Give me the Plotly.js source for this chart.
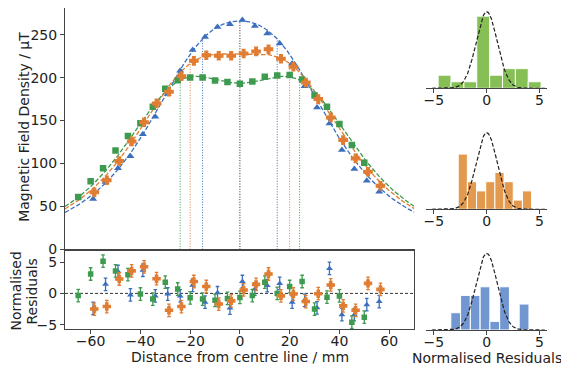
<!DOCTYPE html>
<html>
<head>
<meta charset="utf-8">
<script src="https://cdn.plot.ly/plotly-3.0.1.min.js"></script>
<style>html,body{margin:0;padding:0;background:#fff;}#chart{width:561px;height:369px;}</style>
</head>
<body>
<div id="chart"></div>
<script>
// ---------- data ----------
const seriesNames = ["30 mm", "40 mm", "48 mm"];
// measured field (µT) vs distance (mm)
const blueX   = [-59,-54,-49,-44,-39,-34,-29,-24,-19,-14,-9,-4,1,6,11,16,21,26,31,36,41,46,51,56];
const blueB   = [58.7,78.5,94.4,108.4,134,154.4,181,208,232,247.4,259,262,266.9,260,251.4,239.8,216.5,190,165.3,146.7,115.7,93.6,80,67.2];
const orangeX = [-58.5,-53.5,-48.5,-43.5,-38.5,-33.5,-28.5,-23.5,-18.5,-13.5,-8.5,-3.5,1.5,6.5,11.5,16.5,21.5,26.5,31.5,36.5,41.5,46.5,51.5,56.5];
const orangeB = [66.5,80.5,102.9,125.8,148,170,183.5,201.7,219.5,226,225.4,225.4,228,230.5,233,222,212.6,194.4,175,153.7,127.3,106,90.5,74.2];
const greenX  = [-65,-60,-55,-50,-45,-40,-35,-30,-25,-20,-15,-10,-5,0,5,10,15,20,25,30,35,40,45,50];
const greenB  = [61,79.3,94.4,115.3,132,147,166,187,197,200.2,200.2,196.7,195,193,195.6,201,202.5,203,197.9,179.3,166,146,121.5,101];
// normalised residuals
const blueR   = [-2.4,1.45,3.5,-0.25,3.7,-0.4,-0.1,-0.4,1.3,-1.4,0.1,-2.35,1.9,0.7,1.25,1.6,-1.4,-1.1,-2.3,4.0,-3.4,-3.4,-1.8,-1.3];
const orangeR = [-2.5,-2.1,2.3,3.6,4.25,2.35,-2.7,-2.1,1.9,1.1,-1.7,-1.2,0.55,1.45,3.1,-0.4,-0.1,-1.3,-0.05,1.35,-2.0,-2.7,1.6,0.65];
const greenR  = [-0.35,3.1,5.15,3.6,3.0,-0.1,-0.9,1.8,0.7,-0.7,-0.9,-1.1,-0.8,-0.65,-0.35,1.8,0.0,1.1,1.9,-2.5,-0.6,-0.4,-4.6,-3.8];
// fit parameters (two-coil on-axis model): centre field, coil separation, coil radius
const fitCentre = [266, 227.5, 193.5];
const coilSep   = [30, 40, 48];
const coilRad   = [39, 39, 38.5];
const mainTicks = [0,50,100,150,200,250];
const resTicks  = [-5,0,5];
const distTicks = [-60,-40,-20,0,20,40,60];
const histTicks = [-5,0,5];

// ---------- styling ----------
const W = 561, H = 369;
const FONT = "DejaVu Sans";
const FS = 14;
const cBlue = "#3b6fbe", cOrange = "#e07d32", cGreen = "#3e9a4e";
const hBlue = "#7296d0", hOrange = "#e39a4e", hGreen = "#86bf55";
const axCol = "#444";
const xd = (a,b) => [a/W, b/W];
const yd = (top,bot) => [1-bot/H, 1-top/H];

function model(i, z){
  const R = coilRad[i], h = coilSep[i]/2;
  const f = u => R*R/Math.pow(R*R+u*u,1.5);
  const g = t => f(t-h)+f(t+h);
  return fitCentre[i]*g(z)/g(0);
}
const xMin = -70.3, xMax = 70.1;
const traces = [];
const fitX = [];
for (let k=0;k<=280;k++) fitX.push(xMin + (xMax-xMin)*k/280);

// vertical dotted coil lines
const lineCols = [cBlue, cOrange, cGreen];
[0,1,2].forEach(i=>{
  [-coilSep[i]/2, coilSep[i]/2].forEach(p=>{
    traces.push({x:[p,p], y:[0, model(i,p)], mode:"lines", xaxis:"x", yaxis:"y",
      line:{color:lineCols[i], width:1, dash:"1px,1.6px"}, hoverinfo:"skip", showlegend:false});
  });
});
traces.push({x:[0,0], y:[0, model(0,0)], mode:"lines", xaxis:"x", yaxis:"y",
  line:{color:"#222", width:1, dash:"1px,1.6px"}, showlegend:false});

// fit curves
[0,1,2].forEach(i=>{
  traces.push({x:fitX, y:fitX.map(z=>model(i,z)), mode:"lines", xaxis:"x", yaxis:"y",
    line:{color:lineCols[i], width:1.3, dash:"4.5px,2px"}, showlegend:false});
});

// data points
const sets = [
  {x:blueX, b:blueB, r:blueR, c:cBlue, sym:"triangle-up", s:7, lw:0},
  {x:greenX, b:greenB, r:greenR, c:cGreen, sym:"square", s:6.5, lw:0},
  {x:orangeX, b:orangeB, r:orangeR, c:cOrange, sym:"cross", s:7, lw:1.2}
];
sets.forEach(s=>{
  traces.push({x:s.x, y:s.b, mode:"markers", xaxis:"x", yaxis:"y",
    marker:{color:s.c, symbol:s.sym, size:s.s, line:{width:s.lw, color:s.c}}, showlegend:false});
});
// residual zero line
traces.push({x:[xMin,xMax], y:[0,0], mode:"lines", xaxis:"x2", yaxis:"y2",
  line:{color:"#333", width:1, dash:"3px,2px"}, showlegend:false});
sets.forEach(s=>{
  traces.push({x:s.x, y:s.r, mode:"markers", xaxis:"x2", yaxis:"y2",
    error_y:{type:"constant", value:1, color:s.c, thickness:1.3, width:1.8},
    marker:{color:s.c, symbol:s.sym, size:s.s-1, line:{width:s.lw, color:s.c}}, showlegend:false});
});

// histograms (8 bins, density) and standard normal
function histo(vals){
  const n = vals.length, mn = Math.min(...vals), mx = Math.max(...vals), nb = 8;
  const w = (mx-mn)/nb, counts = new Array(nb).fill(0);
  vals.forEach(v=>{ let k = Math.floor((v-mn)/w); if (k>=nb) k = nb-1; counts[k]++; });
  return {centres: counts.map((_,k)=>mn+w*(k+0.5)), dens: counts.map(c=>c/(n*w)), w};
}
const gx = []; for (let k=0;k<=200;k++) gx.push(-5.2 + 10.7*k/200);
const gy = gx.map(v=>Math.exp(-v*v/2)/Math.sqrt(2*Math.PI));
const histSets = [[greenR,hGreen,"3"],[orangeR,hOrange,"4"],[blueR,hBlue,"5"]];
histSets.forEach(([r,c,a])=>{
  const h = histo(r);
  traces.push({type:"bar", x:h.centres, y:h.dens, width:h.w, xaxis:"x"+a, yaxis:"y"+a,
    marker:{color:c, line:{color:"#fff", width:1}}, showlegend:false});
  traces.push({x:gx, y:gy, mode:"lines", xaxis:"x"+a, yaxis:"y"+a,
    line:{color:"#222", width:1.2, dash:"4px,2px"}, showlegend:false});
});

const tickfont = {family:FONT, size:FS, color:"#222"};
const baseAx = {showline:true, linecolor:axCol, linewidth:1, ticks:"outside", ticklen:4, tickwidth:1,
  tickcolor:axCol, showgrid:false, zeroline:false, tickfont:tickfont, fixedrange:true};
const histX = (anchor) => Object.assign({}, baseAx, {domain:xd(426,546.7), range:[-5.75,5.68],
  tickmode:"array", tickvals:histTicks, anchor:anchor, ticklabelstandoff:-5});
const histY = (top,bot, anchor) => ({domain:yd(top,bot), range:[0,0.42], visible:false, anchor:anchor, fixedrange:true});

const ann = (text,px,py,angle) => ({text:text, x:px/W, y:1-py/H, xref:"paper", yref:"paper",
  xanchor:"center", yanchor:"middle", showarrow:false, textangle:angle||0, font:{family:FONT, size:FS, color:"#222"}});

const layout = {
  width:W, height:H, margin:{l:0,r:0,t:0,b:0}, paper_bgcolor:"#fff", plot_bgcolor:"rgba(0,0,0,0)",
  showlegend:false, barmode:"overlay", bargap:0,
  xaxis: Object.assign({}, baseAx, {domain:xd(65,414.3), range:[xMin,xMax], anchor:"y", showticklabels:false, ticks:""}),
  yaxis: Object.assign({}, baseAx, {domain:yd(8,249.5), range:[0,281], anchor:"x", tickmode:"array", tickvals:mainTicks}),
  xaxis2: Object.assign({}, baseAx, {domain:xd(65,414.3), range:[xMin,xMax], anchor:"y2", mirror:true, tickmode:"array", tickvals:distTicks, ticklabelstandoff:-5}),
  yaxis2: Object.assign({}, baseAx, {domain:yd(249.5,329.3), range:[-5.74,7.02], anchor:"x2", mirror:true, tickmode:"array", tickvals:resTicks}),
  xaxis3: histX("y3"), yaxis3: histY(7.7,88.3,"x3"),
  xaxis4: histX("y4"), yaxis4: histY(128.7,209.3,"x4"),
  xaxis5: histX("y5"), yaxis5: histY(249.4,330,"x5"),
  annotations:[
    ann("Magnetic Field Density / μT", 23.3, 126.5, -90),
    ann("Normalised", 15, 291.5, -90),
    ann("Residuals", 31, 291.5, -90),
    ann("Distance from centre line / mm", 239.5, 356.7),
    ann("Normalised Residuals", 486.5, 357.5)
  ]
};
Plotly.newPlot("chart", traces, layout, {displayModeBar:false, staticPlot:true});
</script>
</body>
</html>
